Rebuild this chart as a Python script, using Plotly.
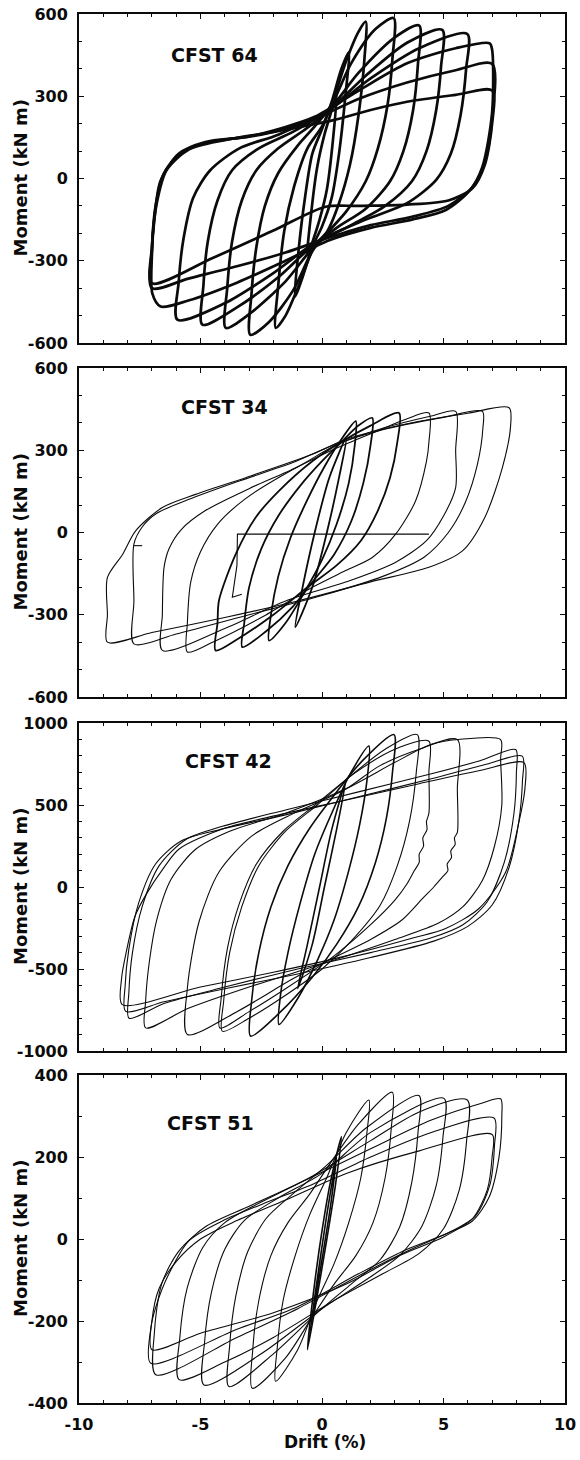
import plotly.graph_objects as go

# ------------------------------------------------------------------
# Data.
# Each loop = list of (drift %, moment kN m) key points of one cycle.
# ------------------------------------------------------------------
CFST64_LOOPS = [
    [(-0.6, -280), (-0.45, -130), (-0.2, 40), (0.1, 160), (0.35, 235), (0.6, 310),
     (0.45, 140), (0.2, -40), (-0.1, -150), (-0.35, -220), (-0.6, -280)],
    [(-1.1, -430), (-0.95, -250), (-0.7, -70), (-0.4, 90), (0.0, 180), (0.4, 280), (0.8, 400),
     (1.1, 460), (0.95, 290), (0.7, 90), (0.4, -70), (0.0, -175), (-0.4, -250), (-0.8, -360), (-1.1, -430)],
    [(-1.9, -545), (-1.8, -390), (-1.55, -190), (-1.15, -30), (-0.6, 110), (0.0, 190), (0.4, 270),
     (1.0, 430), (1.5, 535), (1.8, 572), (1.75, 440), (1.5, 230), (1.15, 50), (0.7, -90), (0.2, -195),
     (-0.3, -245), (-1.0, -400), (-1.5, -500), (-1.9, -545)],
    [(-2.95, -570), (-2.9, -420), (-2.7, -250), (-2.35, -100), (-1.8, 20), (-1.0, 120), (-0.2, 200),
     (0.4, 270), (1.2, 420), (2.2, 545), (2.95, 585), (2.9, 440), (2.7, 270), (2.3, 110), (1.8, -10),
     (1.0, -120), (0.2, -200), (-0.4, -265), (-1.2, -410), (-2.2, -525), (-2.95, -570)],
    [(-3.96, -545), (-3.9, -400), (-3.7, -230), (-3.3, -80), (-2.7, 30), (-1.8, 110), (-0.6, 185),
     (0.3, 250), (1.5, 385), (3.0, 515), (4.0, 558), (3.95, 420), (3.75, 250), (3.35, 100), (2.8, -10),
     (1.8, -110), (0.6, -180), (-0.3, -245), (-1.5, -375), (-3.0, -495), (-3.96, -545)],
    [(-4.92, -533), (-4.88, -390), (-4.7, -230), (-4.3, -80), (-3.7, 30), (-2.6, 110), (-1.2, 170),
     (0.3, 250), (1.8, 375), (3.5, 495), (4.95, 542), (4.9, 410), (4.7, 250), (4.3, 100), (3.7, -10),
     (2.6, -100), (1.2, -170), (-0.3, -240), (-1.8, -360), (-3.5, -470), (-4.92, -533)],
    [(-5.95, -515), (-5.9, -380), (-5.7, -220), (-5.3, -70), (-4.6, 30), (-3.4, 110), (-1.8, 160),
     (0.3, 250), (2.0, 365), (4.0, 475), (5.98, 527), (5.93, 400), (5.7, 230), (5.3, 90), (4.7, -5),
     (3.5, -90), (1.8, -150), (-0.3, -235), (-2.0, -345), (-4.0, -455), (-5.95, -515)],
    [(-6.64, -467), (-6.98, -420), (-7.0, -280), (-6.9, -150), (-6.65, -10), (-5.9, 90), (-4.8, 133),
     (-3.1, 152), (-1.5, 188), (-0.3, 225), (1.5, 320), (3.5, 420), (5.5, 475), (6.9, 493), (7.0, 470),
     (7.0, 240), (6.6, 42), (6.1, -42), (5.1, -115), (3.7, -150), (2.0, -180), (0.3, -225), (-1.5, -300),
     (-3.5, -380), (-5.5, -445), (-6.64, -467)],
    [(-7.0, -400), (-7.0, -260), (-6.85, -100), (-6.5, 20), (-5.7, 100), (-4.5, 135), (-2.5, 160),
     (-0.5, 210), (1.5, 290), (3.5, 350), (5.5, 395), (7.0, 418), (7.0, 220), (6.7, 60), (6.2, -30),
     (5.2, -100), (3.7, -140), (2.0, -170), (0.3, -215), (-1.5, -270), (-3.5, -320), (-5.5, -365), (-7.0, -400)],
    [(-7.0, -382), (-7.0, -250), (-6.8, -90), (-6.4, 30), (-5.5, 105), (-4.0, 140), (-2.0, 170),
     (0.43, 212), (2.0, 250), (3.5, 280), (5.5, 305), (7.0, 321), (7.0, 200), (6.7, 50), (6.2, -35),
     (5.2, -80), (3.5, -95), (1.5, -100), (0.15, -103), (-2.0, -190), (-4.5, -290), (-7.0, -382)],
]

CFST34_LOOPS = [
    [(-1.1, -345), (-0.8, -200), (-0.3, 0), (0.3, 200), (1.0, 345), (0.7, 200), (0.2, 0), (-0.4, -200), (-1.1, -345)],
    [(-2.18, -394), (-2.1, -300), (-1.8, -160), (-1.3, -20), (-0.6, 120), (0.1, 240), (0.8, 340), (1.39, 406),
     (1.35, 320), (1.1, 180), (0.6, 30), (0.0, -100), (-0.8, -230), (-1.5, -330), (-2.18, -394)],
    [(-3.28, -418), (-3.2, -330), (-3.0, -200), (-2.5, -60), (-1.8, 60), (-0.9, 170), (0.0, 260), (0.8, 330),
     (1.5, 390), (2.07, 418), (2.0, 320), (1.7, 180), (1.2, 40), (0.5, -80), (-0.3, -170), (-1.2, -270),
     (-2.3, -360), (-3.28, -418)],
    [(-4.38, -430), (-4.3, -330), (-4.24, -248), (-3.55, -79), (-2.73, 55), (-1.77, 152), (-0.4, 260),
     (0.84, 333), (2.0, 390), (3.17, 436), (3.1, 330), (2.8, 200), (2.3, 80), (1.6, -30), (0.6, -120),
     (-0.6, -200), (-2.0, -300), (-3.5, -390), (-4.38, -430)],
    [(-5.54, -436), (-5.54, -330), (-5.4, -180), (-5.0, -70), (-4.3, 30), (-3.2, 120), (-1.6, 210), (0.4, 300),
     (2.0, 360), (3.5, 415), (4.4, 436), (4.4, 330), (4.3, 260), (3.85, 115), (3.03, -6), (2.07, -91),
     (0.97, -139), (-0.4, -200), (-2.5, -310), (-4.5, -400), (-5.54, -436)],
    [(-6.57, -430), (-6.57, -300), (-6.5, -127), (-6.3, -60), (-5.8, 10), (-4.8, 80), (-3.0, 160), (-1.0, 240),
     (0.6, 320), (2.5, 380), (4.5, 425), (5.5, 442), (5.5, 300), (5.5, 164), (5.0, 60), (4.3, -30),
     (3.0, -110), (1.0, -180), (-1.5, -250), (-4.0, -350), (-6.57, -430)],
    [(-7.74, -406), (-7.74, -250), (-7.74, -42), (-7.4, 20), (-6.8, 70), (-5.5, 120), (-3.5, 185), (-1.2, 255),
     (0.5, 320), (2.5, 375), (5.0, 420), (6.6, 442), (6.62, 380), (6.4, 250), (5.9, 110), (5.2, 0),
     (4.2, -90), (2.5, -160), (0.0, -230), (-3.0, -300), (-6.0, -370), (-7.74, -406)],
    [(-8.83, -400), (-8.83, -300), (-8.83, -164), (-8.2, -79), (-7.67, 6), (-6.57, 91), (-5.2, 139),
     (-3.14, 200), (-0.4, 285), (0.97, 339), (3.7, 400), (6.0, 435), (7.7, 455), (7.76, 388), (7.42, 236),
     (6.7, 55), (5.78, -67), (4.4, -127), (2.0, -180), (-1.0, -250), (-4.0, -310), (-7.0, -365), (-8.83, -400)],
]
CFST34_STEPS = [
    [(4.4, -6), (-3.48, -6), (-3.5, -120), (-3.69, -236), (-3.3, -225)],
    [(-7.74, -48), (-7.4, -48)],
]

CFST42_LOOPS = [
    [(-1.0, -620), (-0.6, -350), (-0.1, 0), (0.4, 350), (0.97, 640), (0.6, 350), (0.1, 0), (-0.4, -350), (-1.0, -620)],
    [(-1.77, -838), (-1.7, -650), (-1.4, -400), (-0.9, -100), (-0.3, 200), (0.4, 450), (1.2, 700), (1.93, 859),
     (1.85, 650), (1.55, 380), (1.1, 100), (0.5, -200), (-0.2, -450), (-1.0, -680), (-1.77, -838)],
    [(-2.94, -909), (-2.9, -700), (-2.6, -400), (-2.1, -120), (-1.4, 130), (-0.5, 360), (0.5, 560), (1.6, 760),
     (2.96, 929), (2.9, 700), (2.65, 420), (2.2, 150), (1.5, -120), (0.6, -350), (-0.4, -550), (-1.7, -760),
     (-2.94, -909)],
    [(-4.1, -879), (-4.05, -700), (-3.8, -400), (-3.3, -120), (-2.6, 130), (-1.5, 340), (-0.2, 500), (1.2, 680),
     (2.6, 840), (3.92, 929), (3.88, 700), (3.6, 400), (3.1, 130), (2.4, -110), (1.2, -330), (0.0, -500),
     (-1.5, -660), (-3.0, -800), (-4.1, -879)],
    [(-4.2, -860), (-4.15, -680), (-3.9, -380), (-3.4, -100), (-2.7, 140), (-1.6, 340), (-0.2, 510), (1.3, 690),
     (3.0, 840), (4.4, 889), (4.4, 700), (4.4, 450), (4.3, 400), (4.32, 350), (4.15, 300), (4.18, 250),
     (4.0, 200), (4.0, 150), (3.8, 100), (3.5, 20), (3.0, -80), (2.0, -230), (0.5, -420), (-1.5, -620),
     (-3.0, -760), (-4.2, -860)],
    [(-5.54, -899), (-5.54, -616), (-5.06, -212), (-4.24, 91), (-2.87, 313), (-1.08, 455), (0.97, 596),
     (2.35, 737), (4.0, 840), (5.57, 899), (5.57, 600), (5.57, 333), (5.45, 300), (5.48, 260), (5.3, 220),
     (5.33, 180), (5.15, 140), (5.18, 100), (4.95, 60), (4.6, 0), (4.2, -60), (3.3, -200), (2.0, -320),
     (0.5, -430), (-1.2, -560), (-3.5, -760), (-5.54, -899)],
    [(-7.26, -859), (-7.26, -700), (-7.1, -450), (-6.8, -200), (-6.2, 50), (-5.2, 230), (-3.8, 340),
     (-1.5, 450), (1.0, 600), (3.0, 760), (4.5, 870), (5.6, 899), (7.35, 899), (7.35, 780), (7.4, 500),
     (7.1, 250), (6.6, 40), (5.8, -120), (4.8, -220), (3.0, -320), (0.0, -470), (-3.0, -610), (-5.5, -740),
     (-7.26, -859)],
    [(-7.94, -800), (-7.95, -650), (-7.8, -400), (-7.4, -120), (-6.7, 130), (-5.6, 290), (-4.1, 370),
     (-1.5, 470), (1.5, 580), (4.5, 690), (6.5, 770), (7.97, 838), (8.0, 700), (7.9, 450), (7.5, 150),
     (6.8, -90), (5.8, -230), (4.5, -310), (2.0, -400), (-1.0, -500), (-4.0, -610), (-6.5, -710), (-7.94, -800)],
    [(-8.08, -758), (-8.1, -600), (-7.95, -380), (-7.55, -100), (-6.85, 140), (-5.8, 280), (-4.2, 350),
     (-1.5, 440), (1.5, 550), (4.5, 660), (6.8, 750), (8.24, 798), (8.25, 650), (8.1, 400), (7.7, 120),
     (7.0, -110), (6.0, -240), (4.6, -330), (2.0, -430), (-1.0, -530), (-4.0, -620), (-6.5, -700), (-8.08, -758)],
    [(-8.22, -717), (-8.25, -560), (-8.08, -414), (-7.7, -180), (-7.26, -51), (-6.5, 120), (-5.88, 232),
     (-4.1, 354), (-1.77, 440), (1.0, 530), (4.0, 630), (6.5, 710), (8.31, 758), (8.35, 600), (8.1, 394),
     (7.56, 91), (6.46, -131), (5.09, -253), (3.7, -313), (1.0, -420), (-2.0, -520), (-5.0, -610), (-8.22, -717)],
]

CFST51_LOOPS = [
    [(-0.6, -270), (-0.35, -130), (0.0, 20), (0.35, 140), (0.8, 250), (0.55, 130), (0.2, 0), (-0.2, -140), (-0.6, -270)],
    [(-0.5, -230), (-0.2, -100), (0.2, 60), (0.6, 200), (0.35, 80), (0.0, -50), (-0.5, -230)],
    [(-1.91, -347), (-1.85, -270), (-1.6, -150), (-1.1, -40), (-0.5, 60), (0.2, 150), (1.0, 260), (1.93, 339),
     (1.85, 260), (1.6, 150), (1.1, 40), (0.5, -60), (-0.2, -150), (-1.0, -270), (-1.91, -347)],
    [(-2.87, -364), (-2.85, -270), (-2.6, -150), (-2.1, -40), (-1.4, 40), (-0.5, 110), (0.4, 190), (1.5, 280),
     (2.89, 358), (2.85, 270), (2.6, 150), (2.1, 40), (1.4, -40), (0.5, -110), (-0.4, -190), (-1.5, -290),
     (-2.87, -364)],
    [(-3.83, -360), (-3.8, -260), (-3.55, -140), (-3.05, -30), (-2.3, 50), (-1.2, 110), (0.2, 180), (1.8, 270),
     (3.99, 350), (3.95, 260), (3.7, 140), (3.2, 30), (2.4, -50), (1.2, -110), (-0.2, -180), (-2.0, -280),
     (-3.83, -360)],
    [(-4.86, -356), (-4.83, -250), (-4.55, -130), (-4.0, -25), (-3.2, 45), (-1.8, 100), (0.0, 160), (2.0, 260),
     (5.02, 343), (4.98, 250), (4.7, 130), (4.1, 30), (3.2, -40), (1.8, -100), (0.0, -170), (-2.5, -280),
     (-4.86, -356)],
    [(-5.88, -343), (-5.85, -240), (-5.55, -120), (-4.9, -20), (-4.0, 40), (-2.5, 90), (-0.5, 150), (2.0, 240),
     (4.0, 310), (5.98, 339), (5.95, 240), (5.65, 120), (5.0, 25), (4.0, -35), (2.5, -85), (0.5, -150),
     (-2.0, -240), (-4.0, -300), (-5.88, -343)],
    [(-6.84, -331), (-6.9, -230), (-6.6, -110), (-5.9, -30), (-4.8, 30), (-3.0, 80), (-0.8, 140), (2.0, 220),
     (4.5, 290), (6.5, 330), (7.35, 342), (7.4, 300), (7.28, 198), (6.87, 101), (6.19, 44), (5.09, 12),
     (3.5, -30), (1.5, -90), (-1.0, -170), (-3.5, -240), (-6.84, -331)],
    [(-7.05, -303), (-7.05, -220), (-6.84, -166), (-6.3, -85), (-5.47, -4), (-4.1, 44), (-2.46, 85),
     (-0.4, 133), (2.0, 200), (4.5, 260), (7.08, 295), (7.1, 230), (6.9, 130), (6.3, 55), (5.2, 15),
     (3.5, -25), (1.5, -85), (-1.0, -165), (-3.5, -220), (-7.05, -303)],
    [(-7.0, -270), (-7.0, -200), (-6.7, -120), (-6.0, -55), (-5.0, 0), (-3.5, 45), (-1.5, 95), (1.0, 160),
     (4.0, 215), (7.0, 255), (7.0, 200), (6.8, 120), (6.2, 50), (5.0, 5), (3.2, -40), (1.0, -110),
     (-2.0, -180), (-5.0, -230), (-7.0, -270)],
]

PANEL_LABELS = ["CFST 64", "CFST 34", "CFST 42", "CFST 51"]
PANEL_LABEL_AT = [(-4.44, 450), (-4.03, 458), (-3.83, 769), (-4.57, 283)]
Y_RANGES = [(-600, 600), (-600, 600), (-1000, 1000), (-400, 400)]
Y_TICKS = [[-600, -300, 0, 300, 600], [-600, -300, 0, 300, 600],
           [-1000, -500, 0, 500, 1000], [-400, -200, 0, 200, 400]]
X_RANGE = (-10, 10)
X_TICKS = [-10, -5, 0, 5, 10]
Y_TITLE = "Moment (kN m)"
X_TITLE = "Drift (%)"

# ------------------------------------------------------------------
# Styling / layout
# ------------------------------------------------------------------
W, H = 580, 1460
ML, MR, MT, MB = 79, 15, 14, 57
PANEL_PX = [(14, 343), (368, 697), (723, 1051), (1075, 1403)]
PLOT_H = H - MT - MB
FONT = "DejaVu Sans"
INK = "#0b0b0b"

# line widths: (outer loops, inner loops), number of inner loops
LINE_STYLE = [(2.7, 2.7, 0), (1.1, 1.8, 4), (1.1, 1.6, 3), (1.1, 1.6, 2)]

panels = [
    (CFST64_LOOPS, []),
    (CFST34_LOOPS, CFST34_STEPS),
    (CFST42_LOOPS, []),
    (CFST51_LOOPS, []),
]

fig = go.Figure()
annotations = []
layout_axes = {}

for i, (loops, steps) in enumerate(panels):
    n = "" if i == 0 else str(i + 1)
    xref, yref = "x" + n, "y" + n
    w_out, w_in, n_in = LINE_STYLE[i]
    for j, loop in enumerate(loops):
        fig.add_trace(go.Scatter(
            x=[p[0] for p in loop], y=[p[1] for p in loop],
            mode="lines", xaxis=xref, yaxis=yref,
            line=dict(color=INK, width=w_in if j < n_in else w_out,
                      shape="spline", smoothing=0.8),
            showlegend=False, hoverinfo="skip"))
    for seg in steps:
        fig.add_trace(go.Scatter(
            x=[p[0] for p in seg], y=[p[1] for p in seg],
            mode="lines", xaxis=xref, yaxis=yref,
            line=dict(color=INK, width=w_out),
            showlegend=False, hoverinfo="skip"))

    top_px, bot_px = PANEL_PX[i]
    dom = [(MT + PLOT_H - bot_px) / PLOT_H, (MT + PLOT_H - top_px) / PLOT_H]
    last = i == len(panels) - 1
    layout_axes["xaxis" + n] = dict(
        domain=[0, 1], anchor=yref, range=list(X_RANGE),
        tickvals=X_TICKS, ticktext=[str(v) for v in X_TICKS],
        showticklabels=last, ticks="inside", ticklen=5, tickwidth=1.2, tickcolor=INK,
        minor=dict(ticks="inside", ticklen=3, dtick=1, tickcolor=INK, tickwidth=1),
        showline=True, linecolor=INK, linewidth=2.2, mirror="allticks",
        showgrid=False, zeroline=False, ticklabelstandoff=6, ticklabeloverflow="allow",
        tickfont=dict(family=FONT, size=16, color=INK, weight="bold"))
    yt = Y_TICKS[i]
    layout_axes["yaxis" + n] = dict(
        domain=dom, anchor=xref, range=list(Y_RANGES[i]),
        tickvals=yt, ticktext=[str(v) for v in yt],
        ticks="inside", ticklen=5, tickwidth=1.2, tickcolor=INK,
        minor=dict(ticks="inside", ticklen=3, dtick=100, tickcolor=INK, tickwidth=1),
        showline=True, linecolor=INK, linewidth=2, mirror="allticks",
        showgrid=False, zeroline=False, ticklabelstandoff=6, ticklabeloverflow="allow",
        tickfont=dict(family=FONT, size=16, color=INK, weight="bold"))

    lx, ly = PANEL_LABEL_AT[i]
    annotations.append(dict(text=PANEL_LABELS[i], x=lx, y=ly, xref=xref, yref=yref,
                            showarrow=False, xanchor="center", yanchor="middle",
                            font=dict(family=FONT, size=19, color=INK, weight="bold")))
    annotations.append(dict(text=Y_TITLE, x=(20 - ML) / (W - ML - MR), y=(dom[0] + dom[1]) / 2,
                            xref="paper", yref="paper", textangle=-90, showarrow=False,
                            xanchor="center", yanchor="middle",
                            font=dict(family=FONT, size=18, color=INK, weight="bold")))

annotations.append(dict(text=X_TITLE, x=(325 - ML) / (W - ML - MR), y=(MT + PLOT_H - 1442) / PLOT_H,
                        xref="paper", yref="paper", showarrow=False,
                        xanchor="center", yanchor="middle",
                        font=dict(family=FONT, size=17, color=INK, weight="bold")))

fig.update_layout(
    width=W, height=H, margin=dict(l=ML, r=MR, t=MT, b=MB, autoexpand=False),
    paper_bgcolor="white", plot_bgcolor="white",
    annotations=annotations, **layout_axes)

fig.write_html("out.html",
               config={"displayModeBar": False},
               post_script="document.body.style.margin='0';document.body.style.padding='0';")
